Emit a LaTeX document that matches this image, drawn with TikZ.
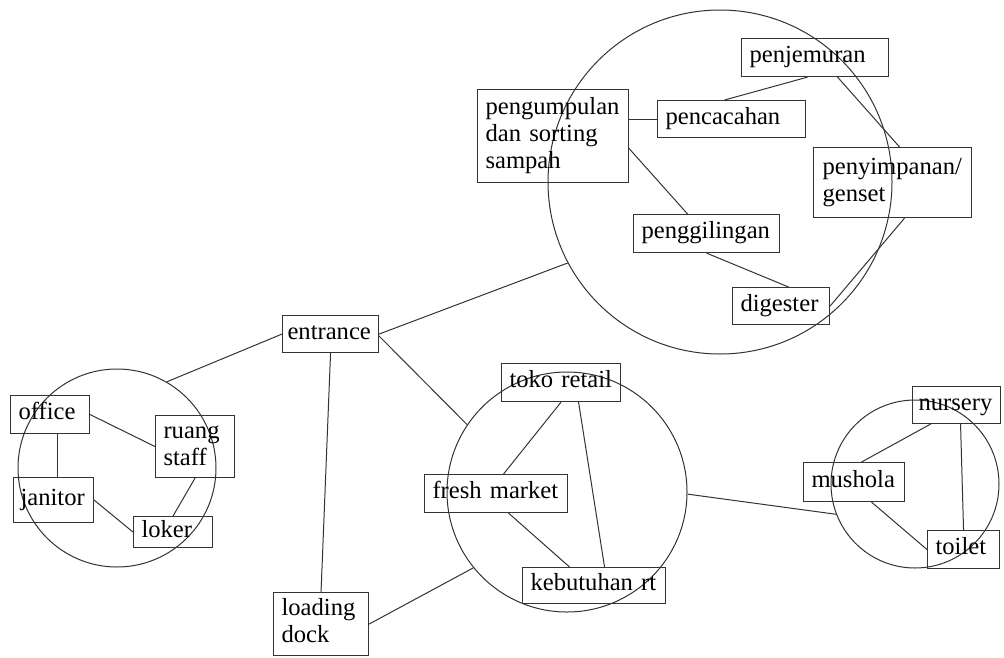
\documentclass[tikz,border=0pt]{standalone}
\usepackage{fontspec}
\setmainfont{Liberation Serif}
\hyphenpenalty=10000
\exhyphenpenalty=10000
\begin{document}
\begin{tikzpicture}[x=1pt,y=-1pt,
  lbl/.style={draw=black!80, line width=1.1pt, anchor=north west, inner xsep=8pt, inner ysep=0pt,
    align=left, font=\fontsize{24.6}{27}\selectfont,
    execute at begin node=\strut, execute at end node=\strut},
  ring/.style={circle, draw=black!80, line width=1pt, inner sep=0pt},
  link/.style={draw=black!80, line width=1pt}]
\useasboundingbox (0,0) rectangle (1004,657);

% circles
\node[ring, minimum size=344pt] (c1) at (720,182) {};
\node[ring, minimum size=198pt] (c2) at (117,468) {};
\node[ring, minimum size=240pt] (c3) at (567,492) {};
\node[ring, minimum size=168pt] (c4) at (915,484) {};

% top cluster
\node[lbl, minimum width=147pt, minimum height=38pt, text width=131pt] (penjemuran) at (741,38) {penjemuran};
\node[lbl, minimum width=151pt, minimum height=93pt, text width=135pt] (pengumpulan) at (477,89) {pengumpulan\\dan sorting\\sampah};
\node[lbl, minimum width=148pt, minimum height=37pt, text width=132pt] (pencacahan) at (657,100) {pencacahan};
\node[lbl, minimum width=158pt, minimum height=70pt, inner xsep=9pt, text width=140pt] (penyimpanan) at (813,147) {penyimpanan/\\genset};
\node[lbl, minimum width=146pt, minimum height=38pt, text width=130pt] (penggilingan) at (633,214) {penggilingan};
\node[lbl, minimum width=97pt, minimum height=37pt, text width=81pt] (digester) at (732,287) {digester};

% entrance and loading
\node[lbl, minimum width=96pt, minimum height=37pt, inner xsep=5pt, text width=86pt] (entrance) at (282,315) {entrance};
\node[lbl, minimum width=95pt, minimum height=63pt, text width=79pt] (loading) at (273,592) {loading\\dock};

% left cluster
\node[lbl, minimum width=79pt, minimum height=38pt, text width=63pt] (office) at (10,395) {office};
\node[lbl, minimum width=79pt, minimum height=62pt, text width=63pt] (ruang) at (155,415) {ruang\\staff};
\node[lbl, minimum width=80pt, minimum height=45pt, inner xsep=7pt, text width=66pt] (janitor) at (13,477) {janitor};
\node[lbl, minimum width=79pt, minimum height=31pt, text width=63pt] (loker) at (133,516) {loker};

% market cluster
\node[lbl, minimum width=119pt, minimum height=38pt, text width=103pt] (toko) at (501,363) {toko retail};
\node[lbl, minimum width=143pt, minimum height=38pt, text width=127pt] (fresh) at (424,474) {fresh market};
\node[lbl, minimum width=143pt, minimum height=36pt, text width=127pt] (kebutuhan) at (522,567) {kebutuhan rt};

% right cluster
\node[lbl, minimum width=101pt, minimum height=39pt, text width=85pt] (mushola) at (803,462) {mushola};
\node[lbl, minimum width=88pt, minimum height=37pt, inner xsep=6pt, text width=76pt] (nursery) at (912,386) {nursery};
\node[lbl, minimum width=72pt, minimum height=38pt, text width=56pt] (toilet) at (927,530) {toilet};

% connectors between clusters
\draw[link] (entrance.east) -- (c1.208);
\draw[link] (entrance.west) -- (c2.60);
\draw[link] ([yshift=-2pt]entrance.east) -- (c3.146);
\draw[link] (entrance.south) -- (loading.north);
\draw[link] (loading.east) -- (c3.219);
\draw[link] (c3.359) -- (c4.201);

% top cluster links
\draw[link] (pengumpulan.east |- pencacahan.west) -- (pencacahan.west);
\draw[link] ([xshift=-7pt]pencacahan.north) -- ([xshift=-7.5pt]penjemuran.south);
\draw[link] ([yshift=-12.5pt]pengumpulan.east) -- ([xshift=-19pt]penggilingan.north);
\draw[link] (penggilingan.south) -- ([xshift=7.5pt]digester.north);
\draw[link] ([xshift=22.5pt]penjemuran.south) -- ([xshift=7pt]penyimpanan.north);
\draw[link] ([xshift=12pt]penyimpanan.south) -- (digester.east);

% left cluster links
\draw[link] (office.east) -- (ruang.west);
\draw[link] ([xshift=7.5pt]office.south) -- ([xshift=4pt]janitor.north);
\draw[link] (janitor.east) -- (loker.west);
\draw[link] (ruang.south) -- (loker.north);

% market links
\draw[link] (toko.south) -- ([xshift=7.5pt]fresh.north);
\draw[link] ([xshift=17.5pt]toko.south) -- ([xshift=10.5pt]kebutuhan.north);
\draw[link] ([xshift=12.5pt]fresh.south) -- ([xshift=-24.5pt]kebutuhan.north);

% right cluster links
\draw[link] ([xshift=-26pt]nursery.south) -- ([xshift=7.5pt]mushola.north);
\draw[link] ([xshift=4pt]nursery.south) -- (toilet.north);
\draw[link] ([xshift=17.5pt]mushola.south) -- (toilet.west);
\end{tikzpicture}
\end{document}
